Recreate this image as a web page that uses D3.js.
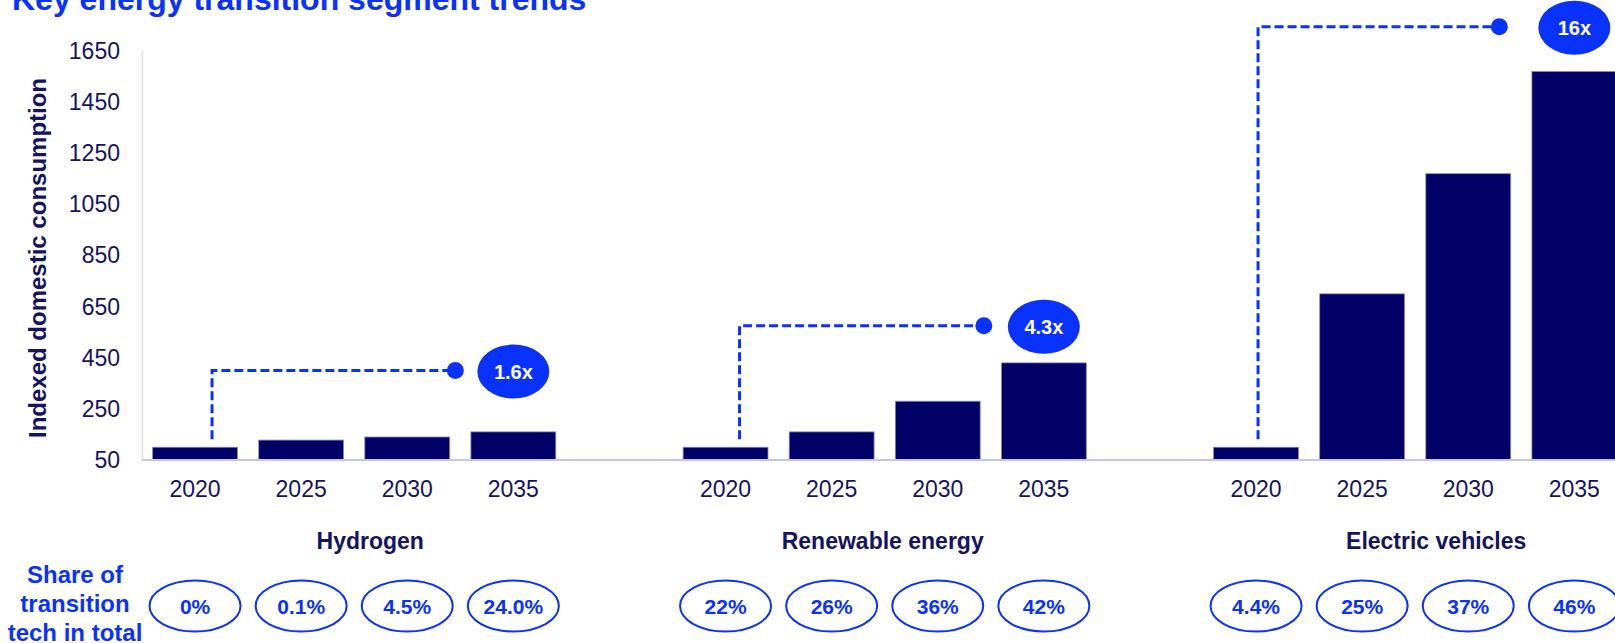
<!DOCTYPE html>
<html>
<head>
<meta charset="utf-8">
<script src="https://cdn.jsdelivr.net/npm/d3@7"></script>
<style>
	body { margin: 0; background: #fff; }
	svg { display: block; font-family: Arial, 'Liberation Sans', sans-serif; }
</style>
</head>
<body>
<svg width="1615" height="643"></svg>
<script>
// Key energy transition segment trends - indexed consumption (2020 = 100)

const segments = ['Hydrogen', 'Renewable energy', 'Electric vehicles']
const years = ['2020', '2025', '2030', '2035']
const hydrogen = [100, 128, 140, 160]
const renewable = [100, 160, 280, 430]
const electricVehicles = [100, 700, 1170, 1570]
const multiples = ['1.6x', '4.3x', '16x']
const connectorLevel = [400, 575, 1745]
const shareHydrogen = ['0%', '0.1%', '4.5%', '24.0%']
const shareRenewable = ['22%', '26%', '36%', '42%']
const shareEV = ['4.4%', '25%', '37%', '46%']
const yTicks = [50, 250, 450, 650, 850, 1050, 1250, 1450, 1650]

const series = [hydrogen, renewable, electricVehicles]
const shares = [shareHydrogen, shareRenewable, shareEV]

// layout tweaks (pixels)
const connectorShift = [17, 14, 2]
const dotGap = [58, 60, 75]
const labelShift = [16, -2, 21]

const navy = '#000066'
const textNavy = '#14145f'
const blue = '#0a32ff'

const svg = d3.select('svg')

// one slot per bar, with an empty slot between the segments
var slots = []
segments.forEach(function(s, i) {
	years.forEach(function(y) { slots.push(s + '|' + y) })
	if (i < segments.length - 1) slots.push('gap' + i)
})

var x = d3.scaleBand().domain(slots)
	.range([142, 142 + 14 * 106.1])
	.paddingInner(0.2).paddingOuter(0.1)
var y = d3.scaleLinear().domain([50, 1650]).range([460, 51])

function cx(seg, yr) { return x(seg + '|' + yr) + x.bandwidth() / 2 }

// title (cut at the top in the original)
svg.append('text')
	.attr('x', 12).attr('y', 10)
	.attr('fill', blue).attr('font-size', 32).attr('font-weight', 'bold')
	.text('Key energy transition segment trends')

// y axis
svg.append('line')
	.attr('x1', 142.5).attr('x2', 142.5)
	.attr('y1', y(1650)).attr('y2', y(50))
	.attr('stroke', '#dedede').attr('stroke-width', 1.5)

var yAxis = svg.append('g')
	.attr('transform', 'translate(142,0)')
	.call(d3.axisLeft(y).tickValues(yTicks).tickSize(0).tickPadding(22).tickFormat(d3.format('d')))
yAxis.select('.domain').remove()
yAxis.selectAll('text')
	.attr('font-size', 23).attr('fill', textNavy)
	.attr('font-family', 'Arial, Liberation Sans, sans-serif')

svg.append('text')
	.attr('transform', 'translate(46,258) rotate(-90)')
	.attr('text-anchor', 'middle')
	.attr('fill', textNavy).attr('font-size', 24).attr('font-weight', 'bold')
	.text('Indexed domestic consumption')

// bars
var bars = []
segments.forEach(function(s, i) {
	years.forEach(function(yr, j) { bars.push({seg: s, year: yr, value: series[i][j]}) })
})

svg.append('g').selectAll('rect').data(bars).enter().append('rect')
	.attr('x', function(d) { return x(d.seg + '|' + d.year) })
	.attr('width', x.bandwidth())
	.attr('y', function(d) { return y(d.value) })
	.attr('height', function(d) { return y(50) - y(d.value) })
	.attr('fill', navy)
	.attr('stroke', '#8c8cc4').attr('stroke-width', 0.8)

// baseline
svg.append('line')
	.attr('x1', 142).attr('x2', 1615)
	.attr('y1', y(50)).attr('y2', y(50))
	.attr('stroke', '#c4c4f4').attr('stroke-width', 2)

// year labels
svg.append('g').selectAll('text').data(bars).enter().append('text')
	.attr('x', function(d) { return cx(d.seg, d.year) })
	.attr('y', 489)
	.attr('text-anchor', 'middle').attr('dominant-baseline', 'central')
	.attr('font-size', 23).attr('fill', textNavy)
	.text(function(d) { return d.year })

// segment names
svg.append('g').selectAll('text').data(segments).enter().append('text')
	.attr('x', function(d, i) { return (cx(d, '2025') + cx(d, '2030')) / 2 + labelShift[i] })
	.attr('y', 541)
	.attr('text-anchor', 'middle').attr('dominant-baseline', 'central')
	.attr('font-size', 23).attr('font-weight', 'bold').attr('fill', textNavy)
	.text(function(d) { return d })

// growth connectors and multiple badges
segments.forEach(function(s, i) {
	var g = svg.append('g')
	var x0 = cx(s, '2020') + connectorShift[i]
	var yl = y(connectorLevel[i])
	var bx = cx(s, '2035')
	var dx = bx - dotGap[i]
	g.append('path')
		.attr('d', 'M' + x0 + ',' + (y(series[i][0]) - 8) + 'V' + yl + 'H' + dx)
		.attr('fill', 'none').attr('stroke', blue)
		.attr('stroke-width', 3).attr('stroke-dasharray', '9,4')
	g.append('circle').attr('cx', dx).attr('cy', yl).attr('r', 8.5).attr('fill', blue)
	g.append('ellipse').attr('cx', bx).attr('cy', yl + 1)
		.attr('rx', 36).attr('ry', 27).attr('fill', blue)
	g.append('text').attr('x', bx).attr('y', yl + 1)
		.attr('text-anchor', 'middle').attr('dominant-baseline', 'central')
		.attr('font-size', 20).attr('font-weight', 'bold').attr('fill', '#fff')
		.text(multiples[i])
})

// share of transition tech
var shareData = []
segments.forEach(function(s, i) {
	years.forEach(function(yr, j) { shareData.push({seg: s, year: yr, label: shares[i][j]}) })
})
var sg = svg.append('g').selectAll('g').data(shareData).enter().append('g')
	.attr('transform', function(d) { return 'translate(' + cx(d.seg, d.year) + ',606)' })
sg.append('ellipse').attr('rx', 45.5).attr('ry', 25.5)
	.attr('fill', '#fff').attr('stroke', blue).attr('stroke-width', 2)
sg.append('text')
	.attr('text-anchor', 'middle').attr('dominant-baseline', 'central')
	.attr('font-size', 21).attr('font-weight', 'bold').attr('fill', blue)
	.text(function(d) { return d.label })

svg.append('g').selectAll('text').data(['Share of', 'transition', 'tech in total']).enter().append('text')
	.attr('x', 75).attr('y', function(d, i) { return 574 + i * 29 })
	.attr('text-anchor', 'middle').attr('dominant-baseline', 'central')
	.attr('font-size', 24).attr('font-weight', 'bold').attr('fill', blue)
	.text(function(d) { return d })
</script>
</body>
</html>
